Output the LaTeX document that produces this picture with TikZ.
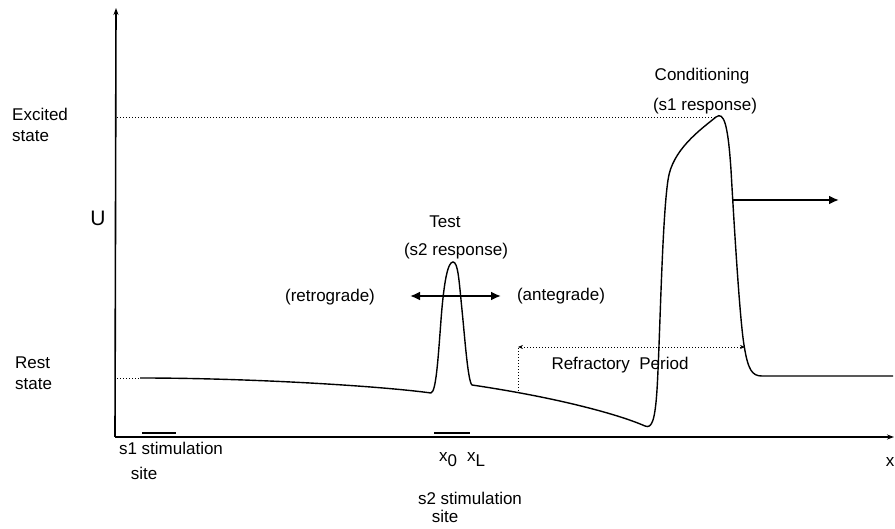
\documentclass[tikz,border=0pt]{standalone}
\usepackage{fontspec}
\setmainfont{Liberation Sans}
\usetikzlibrary{arrows.meta}
\begin{document}
\begin{tikzpicture}[x=1pt,y=-1pt,
  lbl/.style={font=\fontsize{17}{19}\selectfont, inner sep=0pt},
  lbll/.style={lbl, align=left, anchor=west},
  dots/.style={line width=0.8pt, dash pattern=on 1pt off 2pt},
  axis/.style={line width=1.6pt},
  curve/.style={line width=1.4pt},
  bar/.style={line width=2.6pt},
  bigarrow/.style={line width=2.6pt}]
\useasboundingbox (0,0) rectangle (895,529);
% axes
\coordinate (O) at (115,437);
\coordinate (Ytop) at (116,8);
\coordinate (Xend) at (894,437);
\draw[axis,-{Stealth[length=7pt,width=5pt]}] (O) -- (Ytop);
\draw[axis,-{Stealth[length=7pt,width=5pt]}] (O) -- (Xend);
% level lines
\coordinate (exc0) at (117,117);
\coordinate (exc1) at (716,117);
\coordinate (rest0) at (117,378);
\draw[dots] (exc0) -- (exc1);
\coordinate (c0) at (140,378);
\draw[dots] (rest0) -- (c0);
% curve
\draw[curve] (c0) .. controls (250,378) and (380,386) .. (431,393)
  .. controls (436,392) and (438,360) .. (441,320)
  .. controls (444,280) and (448,262) .. (453,262)
  .. controls (458,262) and (459,280) .. (462,310)
  .. controls (465,340) and (468,382) .. (472,385)
  .. controls (560,398) and (620,415) .. (645,426)
  .. controls (652,429) and (655,420) .. (657,390)
  .. controls (660,340) and (662,220) .. (668,180)
  .. controls (672,150) and (700,130) .. (716,117)
  .. controls (724,111) and (728,125) .. (731,170)
  .. controls (735,240) and (740,320) .. (744,345)
  .. controls (748,370) and (752,376) .. (762,376)
  -- (893,376);
% stimulation bars
\coordinate (s1a) at (142,433);
\coordinate (s1b) at (176,433);
\coordinate (s2a) at (434,433);
\coordinate (s2b) at (470,433);
\draw[bar] (s1a) -- (s1b);
\draw[bar] (s2a) -- (s2b);
% test arrows
\coordinate (ta) at (410,296);
\coordinate (tb) at (501,296);
\draw[bigarrow,{Latex[length=10pt,width=9pt]}-{Latex[length=10pt,width=9pt]}] (ta) -- (tb);
% conditioning arrow
\coordinate (ca) at (733,200);
\coordinate (cb) at (839,200);
\draw[bigarrow,-{Latex[length=10pt,width=9pt]}] (ca) -- (cb);
% refractory period
\coordinate (ra) at (518,391);
\coordinate (rb) at (518,347);
\coordinate (rc) at (745,347);
\draw[dots] (ra) -- (rb);
\draw[dots,{Stealth[length=5pt,width=4pt]}-{Stealth[length=5pt,width=4pt]}] (rb) -- (rc);
% labels
\node[lbll] (excited) at (12,125) {Excited\\[2pt]state};
\node[lbl,font=\fontsize{21}{23}\selectfont] (U) at (98,218) {U};
\node[lbll] (rest) at (15,373) {Rest\\[2pt]state};
\node[lbl] (s1) at (171,448) {s1 stimulation};
\node[lbl] (s1s) at (144,473) {site};
\node[lbl] (x0) at (448,460) {x\raisebox{-5pt}{0}};
\node[lbl] (xL) at (476,460) {x\raisebox{-5pt}{L}};
\node[lbl] (s2) at (470,498) {s2 stimulation};
\node[lbl] (s2s) at (445,516) {site};
\node[lbl] (xlab) at (890,462) {x};
\node[lbl] (test) at (445,222) {Test};
\node[lbl] (s2r) at (456,251) {(s2 response)};
\node[lbl] (retro) at (330,297) {(retrograde)};
\node[lbl] (ante) at (561,296) {(antegrade)};
\node[lbl] (cond) at (702,76) {Conditioning};
\node[lbl] (s1r) at (705,106) {(s1 response)};
\node[lbl] (refr) at (620,365) {Refractory\ \ Period};
\end{tikzpicture}
\end{document}
